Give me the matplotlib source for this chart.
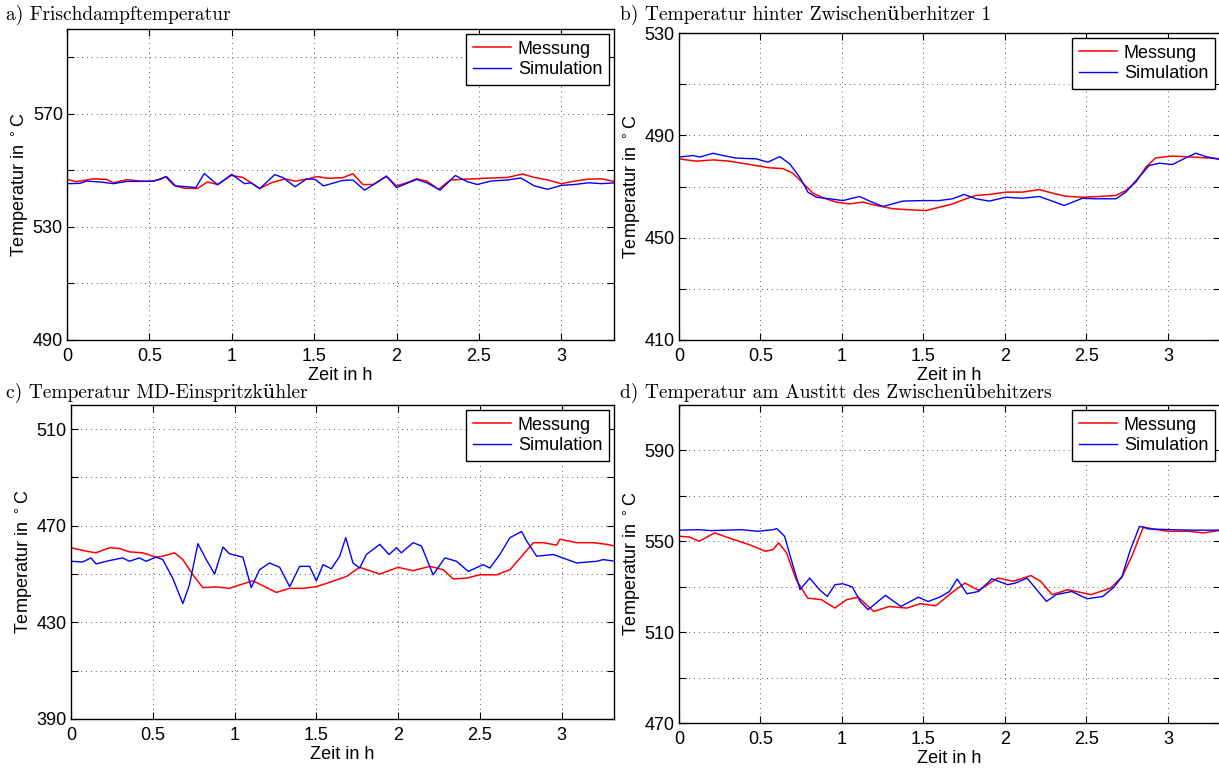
import matplotlib
matplotlib.use('Agg')
import matplotlib.pyplot as plt

# Zeit in h, Temperatur in degC
# a) Frischdampftemperatur
t_a_mess = [0, 0.057, 0.159, 0.241, 0.282, 0.363, 0.445, 0.506, 0.567, 0.598,
            0.649, 0.71, 0.792, 0.853, 0.914, 0.996, 1.067, 1.118, 1.169, 1.241,
            1.322, 1.384, 1.465, 1.516, 1.588, 1.673, 1.735, 1.796, 1.857, 1.939,
            2.0, 2.061, 2.122, 2.184, 2.255, 2.327, 2.388, 2.469, 2.571, 2.673,
            2.765, 2.837, 2.918, 3.0, 3.082, 3.163, 3.245, 3.327]
T_a_mess = [546.8, 546.0, 547.0, 546.8, 545.6, 546.7, 546.2, 546.1, 546.8, 547.8,
            544.7, 543.7, 543.6, 545.9, 545.0, 548.2, 547.5, 545.6, 543.6, 545.6,
            547.0, 546.2, 547.0, 547.8, 547.2, 547.4, 548.8, 545.0, 545.0, 547.8,
            544.5, 545.6, 547.0, 546.2, 543.3, 546.6, 546.8, 547.0, 547.3, 547.5,
            548.7, 547.5, 546.6, 545.3, 546.2, 546.9, 547.0, 546.0]
t_a_sim = [0, 0.078, 0.118, 0.2, 0.282, 0.363, 0.445, 0.527, 0.604, 0.659,
           0.731, 0.782, 0.833, 0.914, 1.0, 1.078, 1.118, 1.169, 1.261, 1.312,
           1.384, 1.455, 1.506, 1.557, 1.669, 1.735, 1.806, 1.878, 1.939, 2.0,
           2.122, 2.184, 2.265, 2.357, 2.429, 2.49, 2.571, 2.673, 2.755, 2.837,
           2.918, 3.0, 3.082, 3.163, 3.245, 3.327]
T_a_sim = [545.3, 545.4, 546.2, 545.9, 545.3, 546.1, 546.1, 546.2, 547.8, 544.5,
           544.2, 543.9, 548.9, 544.9, 548.6, 545.3, 545.6, 543.5, 548.5, 547.4,
           544.2, 547.0, 546.8, 544.5, 546.4, 546.6, 543.0, 545.6, 548.0, 543.9,
           546.8, 545.6, 543.0, 548.2, 546.0, 545.0, 546.2, 546.6, 547.3, 544.5,
           543.3, 544.7, 545.0, 545.6, 545.3, 545.6]

# b) Temperatur hinter Zwischenueberhitzer 1
t_b_mess = [0, 0.106, 0.209, 0.311, 0.434, 0.556, 0.638, 0.699, 0.761, 0.822,
            0.883, 0.965, 1.047, 1.129, 1.211, 1.313, 1.415, 1.517, 1.597, 1.679,
            1.761, 1.822, 1.904, 2.006, 2.108, 2.211, 2.292, 2.374, 2.476, 2.579,
            2.681, 2.742, 2.804, 2.865, 2.926, 3.029, 3.151, 3.233, 3.33]
T_b_mess = [480.8, 479.9, 480.4, 479.9, 478.6, 477.3, 477.0, 475.2, 471.3, 467.4,
            465.6, 463.9, 463.2, 463.9, 462.6, 461.3, 460.9, 460.6, 461.9, 463.2,
            465.2, 466.5, 466.9, 467.8, 467.8, 468.8, 467.4, 466.2, 465.8, 466.1,
            466.5, 468.4, 471.7, 477.6, 481.2, 481.9, 481.5, 481.2, 480.8]
t_b_sim = [0, 0.086, 0.127, 0.209, 0.27, 0.352, 0.474, 0.546, 0.618, 0.679,
           0.74, 0.791, 0.843, 0.924, 1.006, 1.108, 1.17, 1.252, 1.374, 1.497,
           1.597, 1.679, 1.75, 1.822, 1.904, 2.006, 2.108, 2.211, 2.364, 2.476,
           2.56, 2.681, 2.742, 2.824, 2.885, 2.947, 3.029, 3.11, 3.172, 3.233,
           3.33]
T_b_sim = [481.5, 482.1, 481.5, 483.0, 482.1, 481.1, 480.8, 479.5, 481.7, 478.9,
           473.7, 467.8, 465.8, 465.2, 464.5, 466.1, 464.3, 462.2, 464.3, 464.5,
           464.5, 465.2, 466.9, 465.2, 464.3, 465.8, 465.4, 466.1, 462.6, 465.4,
           465.2, 465.2, 467.8, 473.7, 478.2, 479.1, 478.6, 481.2, 483.0, 481.7,
           480.4]

# c) Temperatur MD-Einspritzkuehler
t_c_mess = [0, 0.092, 0.153, 0.235, 0.296, 0.357, 0.439, 0.52, 0.561, 0.633,
            0.684, 0.745, 0.806, 0.888, 0.969, 1.031, 1.112, 1.173, 1.255, 1.337,
            1.418, 1.5, 1.582, 1.684, 1.765, 1.888, 2.0, 2.092, 2.194, 2.276,
            2.337, 2.418, 2.5, 2.602, 2.684, 2.765, 2.827, 2.888, 2.969, 2.99,
            3.092, 3.194, 3.276, 3.327]
T_c_mess = [460.9, 459.5, 458.8, 460.9, 460.6, 459.2, 458.8, 457.0, 457.4, 458.8,
            456.0, 449.7, 444.4, 444.7, 444.1, 445.5, 447.2, 445.2, 442.4, 444.1,
            444.1, 444.8, 446.6, 449.0, 452.8, 450.0, 452.8, 451.4, 453.2, 451.8,
            448.0, 448.3, 449.7, 449.7, 451.8, 458.1, 463.0, 463.0, 462.0, 464.4,
            463.0, 463.0, 462.3, 461.6]
t_c_sim = [0, 0.071, 0.122, 0.153, 0.235, 0.316, 0.357, 0.418, 0.459, 0.52,
           0.561, 0.622, 0.684, 0.724, 0.776, 0.827, 0.878, 0.929, 0.969, 1.051,
           1.102, 1.153, 1.214, 1.276, 1.337, 1.398, 1.459, 1.5, 1.541, 1.592,
           1.643, 1.68, 1.724, 1.765, 1.806, 1.888, 1.945, 1.99, 2.02, 2.092,
           2.143, 2.214, 2.286, 2.357, 2.429, 2.52, 2.561, 2.622, 2.684, 2.755,
           2.786, 2.847, 2.949, 3.092, 3.214, 3.255, 3.327]
T_c_sim = [455.3, 455.0, 456.7, 454.2, 455.6, 456.7, 455.3, 456.7, 455.3, 457.0,
           456.0, 448.3, 437.8, 445.5, 462.6, 456.0, 450.0, 461.2, 458.4, 457.0,
           444.4, 451.8, 454.6, 452.8, 444.8, 453.2, 453.2, 447.2, 453.9, 452.2,
           457.4, 465.1, 454.6, 452.5, 458.1, 462.3, 458.1, 460.9, 458.8, 463.0,
           461.6, 449.7, 456.7, 455.3, 451.1, 453.9, 452.5, 458.1, 465.1, 467.6,
           463.7, 457.4, 458.1, 454.6, 455.3, 456.0, 455.3]

# d) Temperatur am Austitt des Zwischenuebehitzers
t_d_mess = [0, 0.064, 0.124, 0.219, 0.338, 0.433, 0.529, 0.576, 0.612, 0.66,
            0.719, 0.79, 0.874, 0.957, 1.029, 1.1, 1.195, 1.29, 1.398, 1.481,
            1.576, 1.671, 1.755, 1.838, 1.957, 2.052, 2.16, 2.219, 2.29, 2.386,
            2.529, 2.648, 2.719, 2.779, 2.85, 2.91, 3.005, 3.124, 3.219, 3.33]
T_d_mess = [552.2, 551.9, 550.0, 553.7, 550.7, 548.5, 545.6, 546.3, 549.3, 544.9,
            533.1, 525.0, 524.3, 520.6, 524.3, 525.4, 519.1, 521.3, 520.6, 522.5,
            521.6, 527.2, 531.6, 528.4, 533.8, 532.4, 534.9, 532.4, 526.5, 528.7,
            526.5, 529.4, 534.3, 543.4, 556.3, 555.4, 554.4, 554.4, 553.7, 554.9]
t_d_sim = [0, 0.124, 0.195, 0.29, 0.386, 0.48, 0.576, 0.6, 0.648, 0.695,
           0.743, 0.802, 0.862, 0.91, 0.957, 1.005, 1.064, 1.112, 1.16, 1.267,
           1.362, 1.469, 1.529, 1.6, 1.66, 1.707, 1.767, 1.838, 1.921, 2.017,
           2.064, 2.136, 2.195, 2.255, 2.314, 2.41, 2.505, 2.6, 2.671, 2.719,
           2.767, 2.826, 2.886, 3.029, 3.148, 3.243, 3.33]
T_d_sim = [554.9, 555.1, 554.7, 554.9, 555.1, 554.4, 555.1, 555.6, 552.2, 540.4,
           528.7, 533.8, 528.7, 525.7, 530.9, 531.3, 529.9, 523.5, 519.9, 526.2,
           521.3, 525.4, 523.5, 525.4, 527.9, 533.4, 526.9, 527.9, 533.5, 530.9,
           531.6, 533.8, 528.7, 523.5, 526.5, 527.9, 524.7, 525.7, 529.9, 534.6,
           545.6, 556.6, 555.4, 555.1, 554.9, 554.9, 554.9]

titles = ['a) Frischdampftemperatur',
          'b) Temperatur hinter Zwischenüberhitzer 1',
          'c) Temperatur MD-Einspritzkühler',
          'd) Temperatur am Austitt des Zwischenübehitzers']
ylims = [(490, 600), (410, 530), (390, 520), (470, 610)]
xticks = [0, 0.5, 1, 1.5, 2, 2.5, 3]
xticklabels = ['0', '0.5', '1', '1.5', '2', '2.5', '3']

plt.rcParams['font.family'] = ['Liberation Sans', 'DejaVu Sans']
plt.rcParams['font.size'] = 13

fig = plt.figure(figsize=(12.19, 7.69), dpi=100)
W, H = 1219.0, 769.0

# axes boxes in pixels: left, right, top, bottom
boxes = [(67, 614, 29, 340), (679, 1220, 33, 340),
         (71, 614, 405, 719), (679, 1220, 405, 723)]
title_pos = [(6, 15), (620, 15), (6, 393), (620, 393)]
data = [(t_a_mess, T_a_mess, t_a_sim, T_a_sim),
        (t_b_mess, T_b_mess, t_b_sim, T_b_sim),
        (t_c_mess, T_c_mess, t_c_sim, T_c_sim),
        (t_d_mess, T_d_mess, t_d_sim, T_d_sim)]

for i in range(4):
    l, r, t, b = boxes[i]
    ax = fig.add_axes([l / W, 1 - b / H, (r - l) / W, (b - t) / H])
    tm, Tm, ts, Ts = data[i]
    ax.plot(tm, Tm, color='red', lw=1.1, label='Messung')
    ax.plot(ts, Ts, color='blue', lw=1.0, label='Simulation')
    ax.set_xlim(0, 3.32)
    lo, hi = ylims[i]
    ax.set_ylim(lo, hi)
    yt = list(range(lo, hi + 1, 20))
    ax.set_yticks(yt)
    ax.set_yticklabels([str(v) if (v - lo) % 40 == 0 else '' for v in yt])
    ax.set_xticks(xticks)
    ax.set_xticklabels(xticklabels)
    ax.tick_params(direction='in', length=5, top=True, right=True)
    ax.tick_params(axis='x', pad=5.5)
    ax.tick_params(axis='y', pad=3)
    ax.grid(True, color='0.35', linestyle=(0, (1, 4)), linewidth=0.7)
    for s in ax.spines.values():
        s.set_linewidth(1.0)
    ax.set_xlabel('Zeit in h', labelpad=2)
    ax.set_ylabel(r'Temperatur in $^\circ$C', labelpad=1)
    leg = ax.legend(loc='upper right', fancybox=False, framealpha=1,
                    edgecolor='black', borderaxespad=0.3, handlelength=2.1,
                    labelspacing=0.2, borderpad=0.35, handletextpad=0.4)
    leg.get_frame().set_linewidth(1.0)
    tx, ty = title_pos[i]
    fig.text(tx / W, 1 - ty / H, titles[i], ha='left', va='center',
             family=['cmr10', 'DejaVu Serif'], fontsize=14)

plt.savefig('out.png', dpi=100)
